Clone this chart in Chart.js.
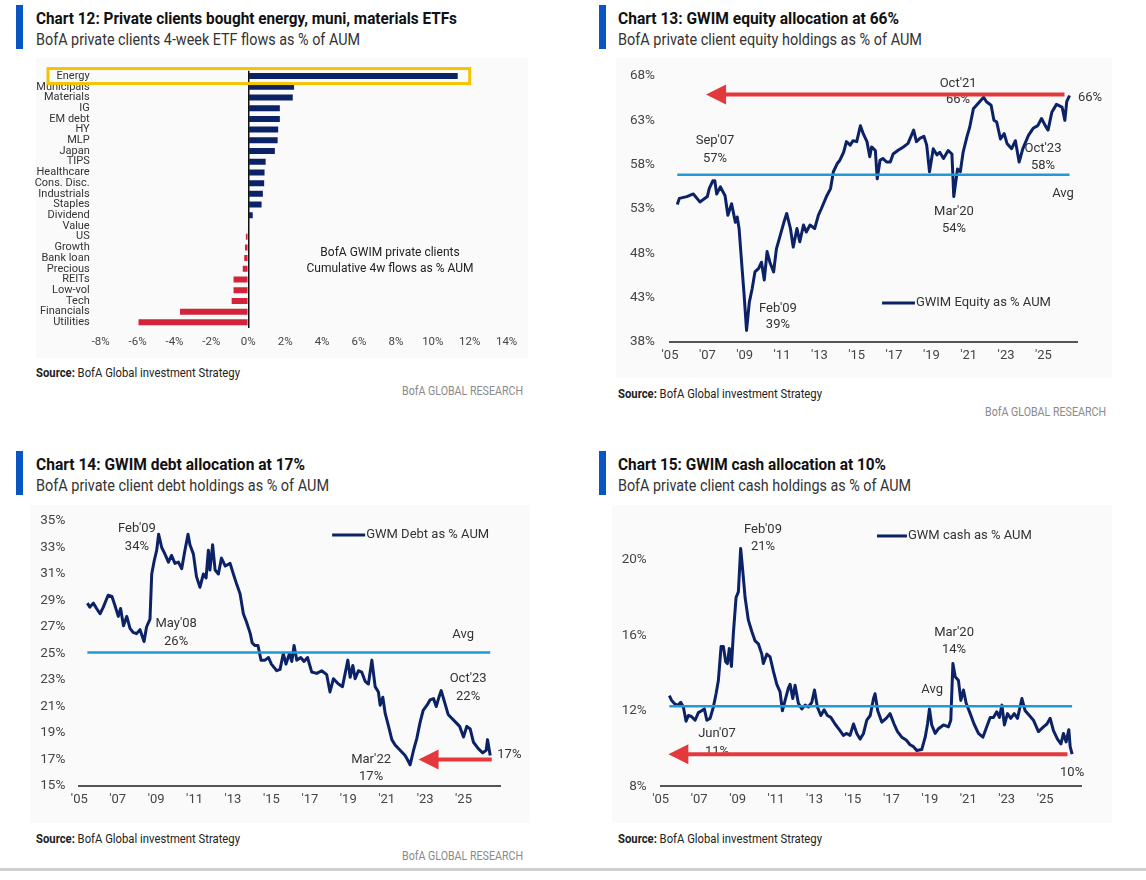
<!DOCTYPE html>
<html>
<head>
<meta charset="utf-8">
<script src="https://cdn.jsdelivr.net/npm/chart.js@4.4.1/dist/chart.umd.min.js"></script>
<style>
  body { margin:0; background:#fff; width:1146px; height:880px; position:relative; overflow:hidden;
         font-family:Roboto,"Liberation Sans",sans-serif; color:#222; }
  .bar { position:absolute; width:7px; height:44px; background:#0a55c4; }
  .fit { position:absolute; white-space:nowrap; transform-origin:left center; }
  .title { font-weight:bold; font-size:17px; line-height:18px; color:#111; }
  .sub { font-size:16px; line-height:18px; color:#333; }
  .src { font-size:12.5px; line-height:14px; color:#222; }
  .brand { font-size:12.5px; line-height:14px; color:#8a8a8a; transform-origin:right center; }
  .bg { position:absolute; background:#fafafa; }
  canvas { position:absolute; }
</style>
</head>
<body>
<div class="bg" style="left:36px;top:58px;width:492px;height:300px"></div>
<div class="bg" style="left:616px;top:58px;width:496px;height:320px"></div>
<div class="bg" style="left:30px;top:505px;width:500px;height:318px"></div>
<div class="bg" style="left:612px;top:505px;width:500px;height:318px"></div>

<div class="bar" style="left:16px;top:5px"></div>
<div class="fit title" data-w="421" style="left:36px;top:9px">Chart 12: Private clients bought energy, muni, materials ETFs</div>
<div class="fit sub" data-w="324" style="left:36px;top:31px">BofA private clients 4-week ETF flows as % of AUM</div>

<div class="bar" style="left:599px;top:5px"></div>
<div class="fit title" data-w="281" style="left:618px;top:9px">Chart 13: GWIM equity allocation at 66%</div>
<div class="fit sub" data-w="304" style="left:618px;top:31px">BofA private client equity holdings as % of AUM</div>

<div class="bar" style="left:16px;top:451px"></div>
<div class="fit title" data-w="269" style="left:36px;top:455px">Chart 14: GWIM debt allocation at 17%</div>
<div class="fit sub" data-w="293" style="left:36px;top:477px">BofA private client debt holdings as % of AUM</div>

<div class="bar" style="left:599px;top:451px"></div>
<div class="fit title" data-w="268" style="left:618px;top:455px">Chart 15: GWIM cash allocation at 10%</div>
<div class="fit sub" data-w="293" style="left:618px;top:477px">BofA private client cash holdings as % of AUM</div>

<canvas id="c12" width="500" height="300" style="left:30px;top:59px"></canvas>
<canvas id="c13" width="505" height="305" style="left:610px;top:60px"></canvas>
<canvas id="c14" width="520" height="305" style="left:20px;top:506.5px"></canvas>
<canvas id="c15" width="505" height="305" style="left:610px;top:506.5px"></canvas>

<div class="fit src" data-w="204" style="left:36px;top:366px"><b>Source:</b> BofA Global investment Strategy</div>
<div class="fit brand" data-w="121" style="right:623px;top:384px">BofA GLOBAL RESEARCH</div>
<div class="fit src" data-w="204" style="left:618px;top:387px"><b>Source:</b> BofA Global investment Strategy</div>
<div class="fit brand" data-w="121" style="right:40px;top:405px">BofA GLOBAL RESEARCH</div>
<div class="fit src" data-w="204" style="left:36px;top:832px"><b>Source:</b> BofA Global investment Strategy</div>
<div class="fit brand" data-w="121" style="right:623px;top:849px">BofA GLOBAL RESEARCH</div>
<div class="fit src" data-w="204" style="left:618px;top:832px"><b>Source:</b> BofA Global investment Strategy</div>
<div style="position:absolute;left:0;top:868px;width:1146px;height:3px;background:#cfcfcf"></div>

<script>
// ---- Chart 12: ETF flows ----
const etfLabels = ['Energy','Municipals','Materials','IG','EM debt','HY','MLP','Japan','TIPS','Healthcare',
  'Cons. Disc.','Industrials','Staples','Dividend','Value','US','Growth','Bank loan','Precious','REITs',
  'Low-vol','Tech','Financials','Utilities'];
const etfFlows = [11.35, 2.48, 2.41, 1.71, 1.71, 1.62, 1.59, 1.44, 0.94, 0.88,
  0.86, 0.79, 0.72, 0.24, 0.0, -0.13, -0.18, -0.22, -0.3, -0.8,
  -0.8, -0.9, -3.7, -5.95];
const etfTicks = [-8, -6, -4, -2, 0, 2, 4, 6, 8, 10, 12, 14];

// ---- shared x ticks for the allocation charts ----
const yearTicks = [2005, 2007, 2009, 2011, 2013, 2015, 2017, 2019, 2021, 2023, 2025];

// ---- Chart 13: equity % AUM ----
const eqDates = [
  2005.39, 2005.5, 2005.9, 2006.25, 2006.6, 2007.0, 2007.1, 2007.3, 2007.4, 2007.5,
  2007.7, 2007.95, 2008.1, 2008.3, 2008.5, 2008.6, 2008.7, 2008.85, 2008.96, 2009.1,
  2009.25, 2009.4, 2009.55, 2009.75, 2009.9, 2010.05, 2010.2, 2010.35, 2010.55, 2010.7,
  2010.9, 2011.1, 2011.25, 2011.45, 2011.6, 2011.8, 2011.95, 2012.15, 2012.3, 2012.5,
  2012.75, 2012.95, 2013.1, 2013.4, 2013.6, 2013.75, 2013.95, 2014.1, 2014.3, 2014.45,
  2014.65, 2014.8, 2015.0, 2015.2, 2015.35, 2015.55, 2015.7, 2015.8, 2016.0, 2016.1,
  2016.25, 2016.4, 2016.6, 2016.8, 2016.95, 2017.2, 2017.5, 2017.75, 2018.05, 2018.2,
  2018.4, 2018.6, 2018.75, 2018.9, 2019.1, 2019.3, 2019.45, 2019.65, 2019.9, 2020.1,
  2020.2, 2020.4, 2020.55, 2020.7, 2020.9, 2021.05, 2021.25, 2021.5, 2021.8, 2021.95,
  2022.2, 2022.35, 2022.5, 2022.7, 2022.9, 2023.05, 2023.3, 2023.5, 2023.7, 2023.9,
  2024.2, 2024.45, 2024.7, 2024.9, 2025.1, 2025.25, 2025.45, 2025.7, 2026.0, 2026.15,
  2026.25, 2026.4];
const eqValues = [
  53.5, 54.2, 54.4, 54.7, 53.8, 54.4, 55.3, 56.2, 56.2, 54.7,
  55.5, 54.5, 52.3, 53.6, 51.5, 52.1, 50.8, 46.6, 43.6, 39.3,
  42.5, 44.0, 45.9, 46.3, 47.0, 45.0, 48.2, 47.0, 45.9, 48.5,
  50.0, 51.5, 52.5, 50.8, 48.7, 50.8, 49.3, 51.2, 50.4, 51.2,
  50.8, 52.3, 53.0, 54.5, 55.3, 57.2, 58.1, 58.5, 59.4, 60.6,
  60.2, 60.7, 60.6, 62.4, 61.5, 60.6, 58.9, 60.0, 59.6, 56.4,
  58.5, 58.7, 58.3, 58.3, 59.2, 59.6, 60.0, 60.4, 61.9, 60.6,
  61.0, 61.2, 60.2, 57.2, 59.8, 59.1, 59.4, 58.7, 59.6, 59.2,
  54.4, 57.5, 57.2, 59.4, 61.1, 62.2, 64.3, 64.9, 65.6, 65.1,
  64.7, 63.0, 62.8, 60.9, 61.5, 60.4, 59.8, 60.7, 58.3, 59.8,
  61.3, 62.1, 62.4, 63.2, 62.4, 61.9, 63.9, 64.8, 64.5, 63.0,
  65.1, 65.8];
const eqAvg = 56.85;
const eqTicks = [38, 43, 48, 53, 58, 63, 68];

// ---- Chart 14: debt % AUM ----
const debtDates = [
  2005.42, 2005.55, 2005.73, 2005.9, 2006.08, 2006.25, 2006.5, 2006.7, 2006.86, 2007.03,
  2007.15, 2007.3, 2007.47, 2007.64, 2007.8, 2007.98, 2008.16, 2008.37, 2008.5, 2008.68,
  2008.77, 2008.9, 2009.03, 2009.13, 2009.29, 2009.46, 2009.64, 2009.8, 2009.98, 2010.16,
  2010.33, 2010.5, 2010.66, 2010.76, 2010.94, 2011.1, 2011.28, 2011.46, 2011.6, 2011.72,
  2011.8, 2011.94, 2012.07, 2012.24, 2012.4, 2012.6, 2012.85, 2013.02, 2013.2, 2013.37,
  2013.54, 2013.7, 2013.9, 2014.0, 2014.15, 2014.3, 2014.46, 2014.67, 2014.85, 2015.0,
  2015.28, 2015.45, 2015.62, 2015.76, 2015.94, 2016.06, 2016.18, 2016.32, 2016.53, 2016.7,
  2016.88, 2017.1, 2017.36, 2017.62, 2017.88, 2018.05, 2018.23, 2018.49, 2018.7, 2018.84,
  2018.98, 2019.1, 2019.24, 2019.36, 2019.53, 2019.7, 2019.88, 2020.05, 2020.23, 2020.4,
  2020.57, 2020.66, 2020.8, 2020.92, 2021.1, 2021.27, 2021.44, 2021.7, 2021.96, 2022.08,
  2022.22, 2022.4, 2022.57, 2022.74, 2022.9, 2023.1, 2023.26, 2023.44, 2023.58, 2023.7,
  2023.84, 2024.0, 2024.2, 2024.4, 2024.6, 2024.8, 2025.0, 2025.17, 2025.35, 2025.52,
  2025.78, 2026.0, 2026.18, 2026.25, 2026.39];
const debtValues = [
  28.8, 28.5, 28.8, 28.4, 28.0, 28.5, 29.4, 29.3, 28.6, 27.8,
  28.4, 27.1, 27.8, 26.9, 26.6, 26.5, 26.8, 25.9, 27.0, 27.6,
  31.0, 32.0, 32.8, 34.0, 33.0, 32.5, 31.9, 32.4, 31.8, 31.9,
  31.4, 32.8, 34.0, 33.2, 32.5, 30.8, 30.0, 31.0, 30.7, 32.8,
  31.3, 33.2, 31.3, 31.0, 32.2, 31.6, 31.8, 31.0, 30.2, 29.5,
  28.0, 27.4, 26.5, 25.8, 25.6, 25.6, 24.5, 24.5, 24.7, 24.2,
  23.7, 23.8, 25.0, 24.2, 25.0, 24.4, 25.6, 24.5, 24.7, 24.4,
  24.7, 23.6, 23.5, 23.7, 23.4, 22.1, 23.1, 22.7, 22.5, 23.5,
  24.5, 23.2, 24.1, 23.1, 23.7, 23.6, 22.9, 22.7, 24.5, 22.5,
  22.1, 21.1, 21.7, 20.5, 19.5, 18.5, 18.1, 17.7, 17.3, 17.0,
  16.6, 17.7, 18.6, 19.8, 20.7, 21.1, 21.5, 21.6, 21.0, 21.6,
  22.2, 21.4, 20.4, 20.1, 19.8, 19.5, 18.7, 19.5, 19.3, 18.3,
  17.8, 17.5, 17.7, 18.5, 17.3];
const debtAvg = 25.08;
const debtTicks = [15, 17, 19, 21, 23, 25, 27, 29, 31, 33, 35];

// ---- Chart 15: cash % AUM ----
const cashDates = [
  2005.45, 2005.57, 2005.75, 2005.92, 2006.04, 2006.18, 2006.32, 2006.44, 2006.6, 2006.79,
  2006.96, 2007.13, 2007.27, 2007.4, 2007.57, 2007.74, 2007.88, 2008.0, 2008.14, 2008.26,
  2008.38, 2008.47, 2008.57, 2008.68, 2008.78, 2008.92, 2009.04, 2009.16, 2009.27, 2009.39,
  2009.56, 2009.74, 2009.91, 2010.08, 2010.26, 2010.34, 2010.52, 2010.69, 2010.86, 2011.04,
  2011.21, 2011.33, 2011.47, 2011.64, 2011.73, 2011.87, 2011.99, 2012.16, 2012.34, 2012.51,
  2012.68, 2012.86, 2013.0, 2013.15, 2013.33, 2013.5, 2013.67, 2013.85, 2014.07, 2014.33,
  2014.5, 2014.68, 2014.85, 2015.03, 2015.2, 2015.37, 2015.55, 2015.72, 2015.9, 2016.07,
  2016.15, 2016.29, 2016.5, 2016.73, 2016.93, 2017.14, 2017.32, 2017.54, 2017.77, 2017.97,
  2018.15, 2018.32, 2018.58, 2018.76, 2018.88, 2018.98, 2019.1, 2019.28, 2019.45, 2019.71,
  2019.97, 2020.09, 2020.2, 2020.32, 2020.49, 2020.61, 2020.75, 2020.89, 2021.1, 2021.3,
  2021.53, 2021.76, 2021.96, 2022.14, 2022.31, 2022.48, 2022.62, 2022.75, 2022.88, 2023.04,
  2023.21, 2023.39, 2023.56, 2023.79, 2023.96, 2024.18, 2024.39, 2024.65, 2024.91, 2025.09,
  2025.26, 2025.43, 2025.64, 2025.82, 2025.95, 2026.09, 2026.23, 2026.3, 2026.4];
const cashValues = [
  12.8, 12.55, 12.35, 12.3, 12.45, 12.2, 11.45, 11.75, 11.7, 11.5,
  11.9, 12.0, 12.1, 11.5, 11.6, 12.2, 12.9, 13.6, 15.4, 15.4,
  14.6, 14.5, 15.3, 14.35, 16.1, 18.0, 18.3, 20.6, 19.4, 18.0,
  16.8, 16.2, 15.7, 15.55, 15.0, 14.5, 15.0, 14.85, 14.1, 13.4,
  13.0, 12.0, 12.55, 13.2, 13.4, 12.65, 13.35, 12.4, 12.1, 12.3,
  12.2, 12.45, 13.1, 12.2, 11.75, 12.05, 11.75, 11.65, 11.3, 10.95,
  10.7, 10.8, 10.7, 11.3, 10.8, 10.5, 10.8, 11.5, 11.75, 12.65,
  12.9, 12.0, 11.4, 11.6, 11.85, 11.3, 10.9, 10.6, 10.45, 10.2,
  10.1, 9.9, 9.95, 10.6, 11.3, 12.1, 11.25, 10.8, 11.05, 11.25,
  11.15, 11.5, 14.5, 13.8, 13.6, 12.55, 13.1, 12.4, 11.85, 11.3,
  10.8, 10.6, 11.15, 11.65, 11.65, 11.95, 11.65, 12.3, 11.25, 11.85,
  11.6, 11.85, 11.6, 12.65, 12.0, 11.75, 11.5, 10.9, 11.15, 11.3,
  11.6, 10.95, 10.5, 10.25, 10.8, 10.35, 11.0, 10.1, 9.7];
const cashAvg = 12.24;
const cashTicks = [8, 12, 16, 20];

const FONT = 'Roboto, "Liberation Sans", sans-serif';
const NAVY = '#0c2267';
const RED = '#e4393c';
const RED_BAR = '#d2233b';
const AVG_BLUE = '#1e9ad6';
Chart.defaults.font.family = FONT;
Chart.defaults.color = '#444';

// squeeze the html text blocks to the widths of the condensed original face
document.querySelectorAll('.fit').forEach(el => {
  const w = el.getBoundingClientRect().width;
  el.style.transform = `scaleX(${(+el.dataset.w / w).toFixed(4)})`;
});

// annotations (text, legend, arrow) drawn at data coordinates
function notesPlugin(notes) {
  return {
    id: 'notes',
    afterDraw(chart) {
      const { ctx, scales: { x, y } } = chart;
      ctx.save();
      ctx.textBaseline = 'middle';
      (notes.texts || []).forEach(t => {
        ctx.font = `${t.size || 13}px ${FONT}`;
        ctx.fillStyle = t.color || '#333';
        ctx.textAlign = t.align || 'center';
        ctx.fillText(t.text, x.getPixelForValue(t.x), y.getPixelForValue(t.y));
      });
      if (notes.legend) {
        const l = notes.legend;
        const py = y.getPixelForValue(l.y);
        const x2 = x.getPixelForValue(l.x2);
        ctx.strokeStyle = NAVY;
        ctx.lineWidth = 3;
        ctx.beginPath();
        ctx.moveTo(x.getPixelForValue(l.x1), py);
        ctx.lineTo(x2, py);
        ctx.stroke();
        ctx.font = `13px ${FONT}`;
        ctx.fillStyle = '#333';
        ctx.textAlign = 'left';
        ctx.fillText(l.text, x2 + 1, py);
      }
      if (notes.arrow) {
        const a = notes.arrow;
        const py = y.getPixelForValue(a.y);
        const tip = x.getPixelForValue(a.to);
        ctx.strokeStyle = RED;
        ctx.lineWidth = 4;
        ctx.beginPath();
        ctx.moveTo(x.getPixelForValue(a.from), py);
        ctx.lineTo(tip + 16, py);
        ctx.stroke();
        ctx.fillStyle = RED;
        ctx.beginPath();
        ctx.moveTo(tip, py);
        ctx.lineTo(tip + 20, py - 10);
        ctx.lineTo(tip + 20, py + 10);
        ctx.closePath();
        ctx.fill();
      }
      ctx.restore();
    }
  };
}

function lineChart(id, dates, values, avg, yTicks, yMin, yMax, xMax, box, notes) {
  const series = dates.map((d, i) => ({ x: d, y: values[i] }));
  const avgLine = [{ x: dates[0], y: avg }, { x: dates[dates.length - 1], y: avg }];
  return new Chart(document.getElementById(id), {
    type: 'line',
    data: {
      datasets: [
        { data: avgLine, borderColor: AVG_BLUE, borderWidth: 2.5, pointRadius: 0 },
        { data: series, borderColor: NAVY, borderWidth: 3, pointRadius: 0, borderJoinStyle: 'round' }
      ]
    },
    options: {
      responsive: false,
      animation: false,
      devicePixelRatio: 1,
      layout: { padding: { left: 0, top: box.top, right: box.right, bottom: 0 } },
      scales: {
        x: {
          type: 'linear', min: 2005, max: xMax,
          afterBuildTicks: s => { s.ticks = yearTicks.map(v => ({ value: v })); },
          afterFit: s => { s.height = box.xh; },
          grid: { display: false, drawTicks: false },
          border: { display: true, color: '#555', width: 2 },
          ticks: { padding: box.xpad, color: '#444', font: { size: 13 }, maxRotation: 0, autoSkip: false,
                   callback: v => "'" + String(v).slice(2) }
        },
        y: {
          min: yMin, max: yMax,
          afterBuildTicks: s => { s.ticks = yTicks.map(v => ({ value: v })); },
          afterFit: s => { s.width = box.yw; },
          grid: { display: false, drawTicks: true, tickLength: box.ypad },
          border: { display: false },
          ticks: { padding: 0, color: '#444', font: { size: 13.5 }, callback: v => v + '%' }
        }
      },
      plugins: { legend: { display: false }, tooltip: { enabled: false } }
    },
    plugins: [notesPlugin(notes)]
  });
}

// Chart 12 bars
const highlight = { label: 'Energy', to: 12 };
new Chart(document.getElementById('c12'), {
  type: 'bar',
  data: {
    labels: etfLabels,
    datasets: [{
      data: etfFlows,
      backgroundColor: etfFlows.map(v => v >= 0 ? NAVY : RED_BAR),
      barPercentage: 0.56,
      categoryPercentage: 1
    }]
  },
  options: {
    indexAxis: 'y',
    responsive: false,
    animation: false,
    devicePixelRatio: 1,
    layout: { padding: { left: 0, top: 11.7, right: 23.4, bottom: 0 } },
    scales: {
      x: {
        min: -8, max: 14,
        afterBuildTicks: s => { s.ticks = etfTicks.map(v => ({ value: v })); },
        afterFit: s => { s.height = 31.3; },
        grid: { drawTicks: false, lineWidth: 1.5,
                color: c => (c.tick && c.tick.value === 0) ? '#111' : 'rgba(0,0,0,0)' },
        border: { display: false },
        ticks: { padding: 7.5, color: '#444', font: { size: 11.5 }, callback: v => v + '%' }
      },
      y: {
        afterFit: s => { s.width = 70.7; },
        grid: { display: false, drawTicks: true, tickLength: 11 },
        border: { display: false },
        ticks: { padding: 0, color: '#333', font: { size: 11 }, autoSkip: false }
      }
    },
    plugins: { legend: { display: false }, tooltip: { enabled: false } }
  },
  plugins: [
    notesPlugin({ texts: [
      { x: 7.68, y: 16.57, text: 'BofA GWIM private clients', size: 12, color: '#222' },
      { x: 7.68, y: 17.98, text: 'Cumulative 4w flows as % AUM', size: 12, color: '#222' }
    ] }),
    {
      id: 'highlight',
      afterDraw(chart) {
        const { ctx, scales: { x, y } } = chart;
        const cy = y.getPixelForValue(etfLabels.indexOf(highlight.label));
        const left = y.left + 18;
        ctx.save();
        ctx.strokeStyle = '#f4c400';
        ctx.lineWidth = 3;
        ctx.strokeRect(left, cy - 7.5, x.getPixelForValue(highlight.to) - left, 15);
        ctx.restore();
      }
    }
  ]
});

// Chart 13 equity
lineChart('c13', eqDates, eqValues, eqAvg, eqTicks, 38, 68, 2026.8,
  { top: 16, right: 38, xh: 23, xpad: 6, yw: 60, ypad: 15 },
  {
    texts: [
      { x: 2020.43, y: 67.1, text: "Oct'21" }, { x: 2020.43, y: 65.3, text: '66%' },
      { x: 2026.85, y: 65.6, text: '66%', align: 'left' },
      { x: 2007.41, y: 60.67, text: "Sep'07" }, { x: 2007.41, y: 58.64, text: '57%' },
      { x: 2024.98, y: 59.8, text: "Oct'23" }, { x: 2024.98, y: 57.85, text: '58%' },
      { x: 2026.05, y: 54.7, text: 'Avg' },
      { x: 2020.21, y: 52.67, text: "Mar'20" }, { x: 2020.21, y: 50.75, text: '54%' },
      { x: 2010.78, y: 41.73, text: "Feb'09" }, { x: 2010.78, y: 39.93, text: '39%' }
    ],
    legend: { x1: 2016.36, x2: 2018.12, y: 42.4, text: 'GWIM Equity as % AUM' },
    arrow: { from: 2026.13, to: 2006.93, y: 65.9 }
  });

// Chart 14 debt
lineChart('c14', debtDates, debtValues, debtAvg, debtTicks, 15, 35, 2026.9,
  { top: 14, right: 40, xh: 26, xpad: 6, yw: 59.3, ypad: 14 },
  {
    texts: [
      { x: 2008.0, y: 34.4, text: "Feb'09" }, { x: 2008.0, y: 33.04, text: '34%' },
      { x: 2010.04, y: 27.24, text: "May'08" }, { x: 2010.04, y: 25.88, text: '26%' },
      { x: 2025.24, y: 23.09, text: "Oct'23" }, { x: 2025.24, y: 21.74, text: '22%' },
      { x: 2020.19, y: 16.99, text: "Mar'22" }, { x: 2020.19, y: 15.71, text: '17%' },
      { x: 2026.76, y: 17.37, text: '17%', align: 'left' },
      { x: 2024.98, y: 26.41, text: 'Avg' }
    ],
    legend: { x1: 2018.16, x2: 2019.88, y: 33.94, text: 'GWM Debt as % AUM' },
    arrow: { from: 2026.47, to: 2022.66, y: 17.0 }
  });

// Chart 15 cash
lineChart('c15', cashDates, cashValues, cashAvg, cashTicks, 8, 22, 2026.9,
  { top: 15, right: 33.3, xh: 25.7, xpad: 6, yw: 50.7, ypad: 14 },
  {
    texts: [
      { x: 2010.32, y: 21.57, text: "Feb'09" }, { x: 2010.32, y: 20.67, text: '21%' },
      { x: 2020.26, y: 16.12, text: "Mar'20" }, { x: 2020.26, y: 15.22, text: '14%' },
      { x: 2019.12, y: 13.1, text: 'Avg' },
      { x: 2007.93, y: 10.8, text: "Jun'07" }, { x: 2007.93, y: 9.83, text: '11%' },
      { x: 2026.4, y: 8.7, text: '10%' }
    ],
    legend: { x1: 2016.25, x2: 2017.81, y: 21.26, text: 'GWM cash as % AUM' },
    arrow: { from: 2026.16, to: 2005.4, y: 9.7 }
  });
</script>
</body>
</html>
